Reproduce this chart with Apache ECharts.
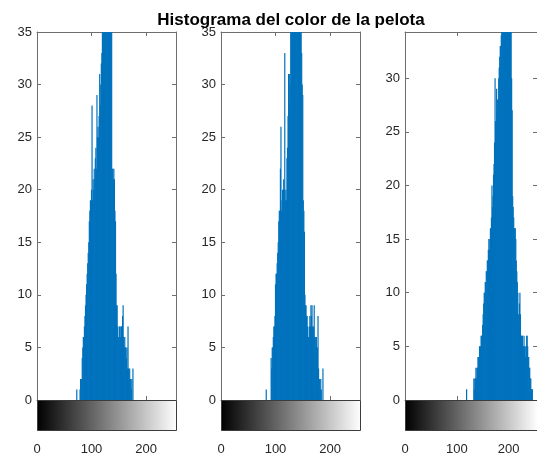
<!DOCTYPE html>
<html><head><meta charset="utf-8">
<script src="https://cdn.jsdelivr.net/npm/echarts@6/dist/echarts.min.js"></script>
<style>html,body{margin:0;padding:0;background:#fff;}#c{width:537px;height:459px;}</style>
</head><body><div id="c"></div>
<script>
const titleText = 'Histograma del color de la pelota';
const binCount = 256;
const xTickInterval = 100;
const yTickInterval = 5;
const yMaxValues = [35, 35, 34.3];
const colorbarRange = [0, 255];

// histogram 1: counts for bins starting at hist1Start
const hist1Start = 73;
const hist1Counts = [
  1,0,0,0,0,0,1,2,2,2,
  4,5,6,6,7,8,9,10,11,12,
  13,14,15,17,18,19,18,20,28,19,
  21,20,22,21,23,24,22,29,25,26,
  25,27,31,28,30,32,33,36,38,41,
  37,44,40,46,42,48,43,45,39,44,
  40,38,41,37,36,22,22,21,22,21,
  18,17,12,9,9,7,6,6,7,7,
  6,7,7,7,8,9,6,5,6,5,
  5,4,5,3,7,3,2,3,2,2,
  1,2,0,3
];
const hist2Start = 83;
const hist2Counts = [
  1,0,0,0,0,0,0,0,0,4,
  3,5,5,6,7,7,8,11,12,12,
  13,14,15,17,18,18,22,26,18,19,
  20,20,21,20,33,19,20,19,23,24,
  27,31,28,31,30,36,39,42,38,45,
  41,47,44,50,43,46,40,44,39,42,
  38,41,37,39,36,33,30,29,19,18,
  16,10,9,9,8,8,7,6,6,7,
  8,7,9,8,9,7,6,7,9,6,
  6,5,6,5,5,8,3,2,2,1,
  2,1,0,0,3
];
const hist3Start = 119;
const hist3Counts = [
  1,0,0,0,0,0,0,0,0,0,
  0,0,0,0,2,1,2,2,3,2,
  3,3,4,4,4,5,5,5,6,6,
  6,7,8,9,10,10,11,11,12,12,
  13,13,14,15,14,15,16,16,17,20,
  18,19,21,22,24,30,26,26,29,27,
  28,28,30,31,32,33,33,34,36,38,
  40,37,43,39,45,41,47,42,44,40,
  43,39,41,38,40,37,36,30,27,19,
  18,17,16,16,16,15,13,12,11,10,
  8,7,9,10,8,6,6,5,6,5,
  5,6,5,5,4,5,6,6,5,4,
  4,3,3,2,2,1,1,1,0
];

function fullHist(start, counts) {
  const a = new Array(binCount).fill(0);
  counts.forEach((v, i) => { a[start + i] = v; });
  return a.map((v, i) => [i, v]);
}
const hists = [fullHist(hist1Start, hist1Counts), fullHist(hist2Start, hist2Counts), fullHist(hist3Start, hist3Counts)];

const panelLeft = [37, 221, 405];
const panelWidth = 139;
const histTop = 32, histHeight = 368;
const cbTop = 400, cbHeight = 31;
const axisColor = '#6e6e6e';
const textColor = '#262626';
const font = 'Liberation Sans, Arial, sans-serif';

const grid = [], xAxis = [], yAxis = [], series = [];
for (let k = 0; k < 3; k++) {
  grid.push({left: panelLeft[k], top: histTop, width: panelWidth, height: histHeight});
  grid.push({left: panelLeft[k], top: cbTop, width: panelWidth, height: cbHeight});
  const gh = 2 * k, gc = 2 * k + 1;
  const baseX = {type: 'value', gridIndex: gh, min: colorbarRange[0], max: colorbarRange[1], interval: xTickInterval,
    axisLine: {show: true, onZero: false, lineStyle: {color: axisColor, width: 1}},
    axisTick: {show: true, inside: true, length: 4, lineStyle: {color: axisColor}},
    axisLabel: {show: false}, splitLine: {show: false}};
  xAxis.push(Object.assign({}, baseX, {position: 'bottom'}));
  xAxis.push(Object.assign({}, baseX, {position: 'top'}));
  xAxis.push({type: 'value', gridIndex: gc, position: 'bottom', min: colorbarRange[0], max: colorbarRange[1], interval: xTickInterval,
    axisLine: {show: false}, axisTick: {show: false}, splitLine: {show: false},
    axisLabel: {show: true, margin: 12, color: textColor, fontSize: 13, fontFamily: font, showMinLabel: true, showMaxLabel: false}});
  const baseY = {type: 'value', gridIndex: gh, min: 0, max: yMaxValues[k], interval: yTickInterval,
    axisLine: {show: true, onZero: false, lineStyle: {color: axisColor, width: 1}},
    axisTick: {show: true, inside: true, length: 4, lineStyle: {color: axisColor}},
    splitLine: {show: false}};
  yAxis.push(Object.assign({}, baseY, {position: 'left',
    axisLabel: {show: true, margin: 5, color: textColor, fontSize: 13, fontFamily: font, showMinLabel: true, showMaxLabel: yMaxValues[k] % yTickInterval === 0}}));
  yAxis.push(Object.assign({}, baseY, {position: 'right', axisLabel: {show: false}}));
  yAxis.push({type: 'value', gridIndex: gc, min: 0, max: 1, show: false});

  series.push({type: 'bar', xAxisIndex: 3 * k, yAxisIndex: 3 * k, data: hists[k], barWidth: 1.2,
    itemStyle: {color: '#0072BD'}, clip: true, silent: true});
  series.push({type: 'custom', xAxisIndex: 3 * k + 2, yAxisIndex: 3 * k + 2, data: [colorbarRange], encode: {x: [0, 1]},
    renderItem: function (params, api) {
      const p0 = api.coord([api.value(0), 0]);
      const p1 = api.coord([api.value(1), 1]);
      const x0 = Math.round(p0[0]) + 0.5, x1 = Math.round(p1[0]) + 0.5;
      const y0 = Math.round(p1[1]) + 0.5, y1 = Math.round(p0[1]) - 0.5;
      return {type: 'rect', shape: {x: x0, y: y0, width: x1 - x0, height: y1 - y0},
        style: {fill: new echarts.graphic.LinearGradient(0, 0, 1, 0, [{offset: 0, color: '#000000'}, {offset: 1, color: '#ffffff'}]),
          stroke: '#3c3c3c', lineWidth: 1}};
    }});
}

const chart = echarts.init(document.getElementById('c'), null, {renderer: 'canvas'});
chart.setOption({
  animation: false,
  backgroundColor: '#ffffff',
  title: {text: titleText, left: 286, top: 7, textAlign: 'center',
    textStyle: {fontSize: 17, fontWeight: 'bold', color: '#000000', fontFamily: font}},
  grid, xAxis, yAxis, series
});
</script></body></html>
